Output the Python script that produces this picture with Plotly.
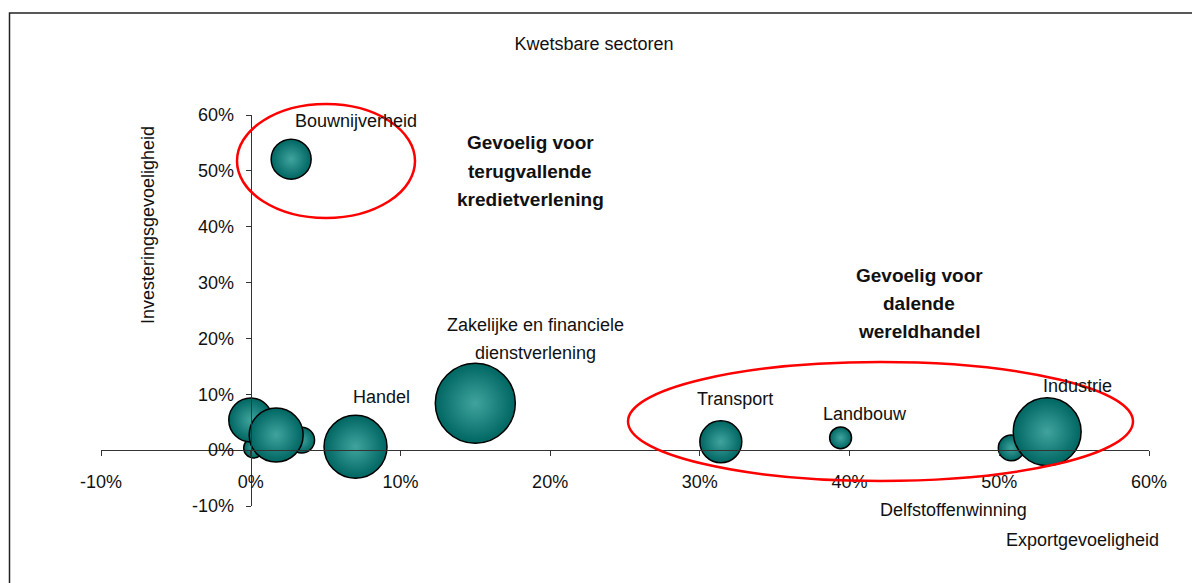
import plotly.graph_objects as go

# ---------------- data ----------------
sectors = ["Delfstoffenwinning", "Landbouw", "Overig A", "Overig C", "Overig B",
           "Bouwnijverheid", "Handel", "Zakelijke en financiele dienstverlening",
           "Transport", "Industrie"]
export_sens = [50.8, 39.4, 0.0, 3.4, 1.7, 2.7, 7.0, 15.0, 31.4, 53.2]
invest_sens = [0.4, 2.2, 5.4, 1.8, 2.7, 52.1, 0.6, 8.4, 1.5, 3.3]
# bubble size (relative weight of the sector)
bubble_size = [10.5, 7.5, 30.0, 10.5, 45.5, 25.0, 62.0, 100.0, 27.5, 72.0]
extra_sector_x = [0.2]
extra_sector_y = [0.4]
extra_sector_size = [6.25]

x_ticks = [-10, 0, 10, 20, 30, 40, 50, 60]
y_ticks = [-10, 0, 10, 20, 30, 40, 50, 60]
x_ticktext = ["-10%", "0%", "10%", "20%", "30%", "40%", "50%", "60%"]
y_ticktext = ["-10%", "0%", "10%", "20%", "30%", "40%", "50%", "60%"]

title_text = "Kwetsbare sectoren"
x_title = "Exportgevoeligheid"
y_title = "Investeringsgevoeligheid"

# ---------------- layout geometry ----------------
W, H = 1192, 583
ML = 101
MT = 115
MR = W - 1149
MB = H - 506
PW, PH = W - ML - MR, H - MT - MB
XR = [-10, 60]
YR = [-10, 60]


def px_x(px):
    return (px - ML) / PW


def px_y(py):
    return 1 - (py - MT) / PH


def d2p_x(v):
    return (v - XR[0]) / (XR[1] - XR[0])


def d2p_y(v):
    return (v - YR[0]) / (YR[1] - YR[0])


FONT = "Liberation Sans, Arial, sans-serif"
TEAL_EDGE = "#006662"
TEAL_CENTER = "#40a39e"

fig = go.Figure()

marker_common = dict(
    sizemode="area",
    sizeref=1 / 32,
    color=TEAL_EDGE,
    gradient=dict(type="radial", color=TEAL_CENTER),
    line=dict(color="black", width=1.5),
    opacity=1,
)

fig.add_trace(go.Scatter(
    x=extra_sector_x, y=extra_sector_y, mode="markers",
    marker=dict(size=extra_sector_size, **marker_common),
    hoverinfo="skip", showlegend=False, cliponaxis=False,
))
fig.add_trace(go.Scatter(
    x=export_sens, y=invest_sens, mode="markers", text=sectors,
    marker=dict(size=bubble_size, **marker_common),
    showlegend=False, cliponaxis=False,
))

# ---------------- labels ----------------
lab_font = dict(family=FONT, size=18, color="#111")
bold_font = dict(family=FONT, size=19, color="#111", weight="bold")

labels = [
    ("Bouwnijverheid", 7.0, 58.9, lab_font),
    ("Handel", 8.73, 9.49, lab_font),
    ("Transport", 32.33, 9.13, lab_font),
    ("Landbouw", 41.0, 6.44, lab_font),
    ("Industrie", 55.2, 11.46, lab_font),
    ("Delfstoffenwinning", 46.93, -10.74, lab_font),
    ("Zakelijke en financiele", 19.0, 22.4, lab_font),
    ("dienstverlening", 19.0, 17.4, lab_font),
    ("Gevoelig voor", 18.67, 55.0, bold_font),
    ("terugvallende", 18.67, 49.95, bold_font),
    ("kredietverlening", 18.67, 44.9, bold_font),
    ("Gevoelig voor", 44.67, 31.33, bold_font),
    ("dalende", 44.67, 26.32, bold_font),
    ("wereldhandel", 44.67, 21.3, bold_font),
]
for txt, x, y, f in labels:
    fig.add_annotation(x=d2p_x(x), y=d2p_y(y), xref="paper", yref="paper",
                       text=txt, showarrow=False,
                       font=f, xanchor="center", yanchor="middle")

fig.add_annotation(x=px_x(1082), y=px_y(540), xref="paper", yref="paper",
                   text=x_title, showarrow=False, font=lab_font,
                   xanchor="center", yanchor="middle")
fig.add_annotation(x=px_x(148), y=px_y(225), xref="paper", yref="paper",
                   text=y_title, showarrow=False, font=lab_font, textangle=-90,
                   xanchor="center", yanchor="middle")

# ---------------- shapes ----------------
fig.add_shape(type="rect", xref="paper", yref="paper",
              x0=px_x(9.5), x1=px_x(1250), y0=px_y(13), y1=px_y(650),
              line=dict(color="#222", width=1.5), layer="below")
fig.add_shape(type="circle", xref="paper", yref="paper",
              x0=px_x(237), x1=px_x(415), y0=px_y(218), y1=px_y(104),
              line=dict(color="#ff0000", width=2.5))
fig.add_shape(type="circle", xref="paper", yref="paper",
              x0=px_x(628), x1=px_x(1133), y0=px_y(481), y1=px_y(362),
              line=dict(color="#ff0000", width=2.5))

axis_common = dict(
    showgrid=False, zeroline=False, showline=True, linecolor="#333", linewidth=1,
    ticks="outside", ticklen=5, tickcolor="#333", tickmode="array",
    tickfont=dict(family=FONT, size=18, color="#111"), anchor="free",
)

fig.update_layout(
    width=W, height=H,
    margin=dict(l=ML, r=MR, t=MT, b=MB),
    paper_bgcolor="white", plot_bgcolor="white",
    title=dict(text=title_text, x=594 / W, y=1 - 44 / H,
               xanchor="center", yanchor="middle", xref="container", yref="container",
               font=dict(family=FONT, size=18, color="#111")),
    xaxis=dict(range=XR, tickvals=x_ticks, ticktext=x_ticktext,
               position=(0 - YR[0]) / (YR[1] - YR[0]),
               ticklabelstandoff=10, **axis_common),
    yaxis=dict(range=YR, tickvals=y_ticks, ticktext=y_ticktext,
               position=(0 - XR[0]) / (XR[1] - XR[0]),
               ticklabelstandoff=8, **axis_common),
    showlegend=False,
)

fig.write_html(
    "out.html",
    config={"displayModeBar": False},
    post_script="document.body.style.margin='0px';document.body.style.overflow='hidden';",
)
